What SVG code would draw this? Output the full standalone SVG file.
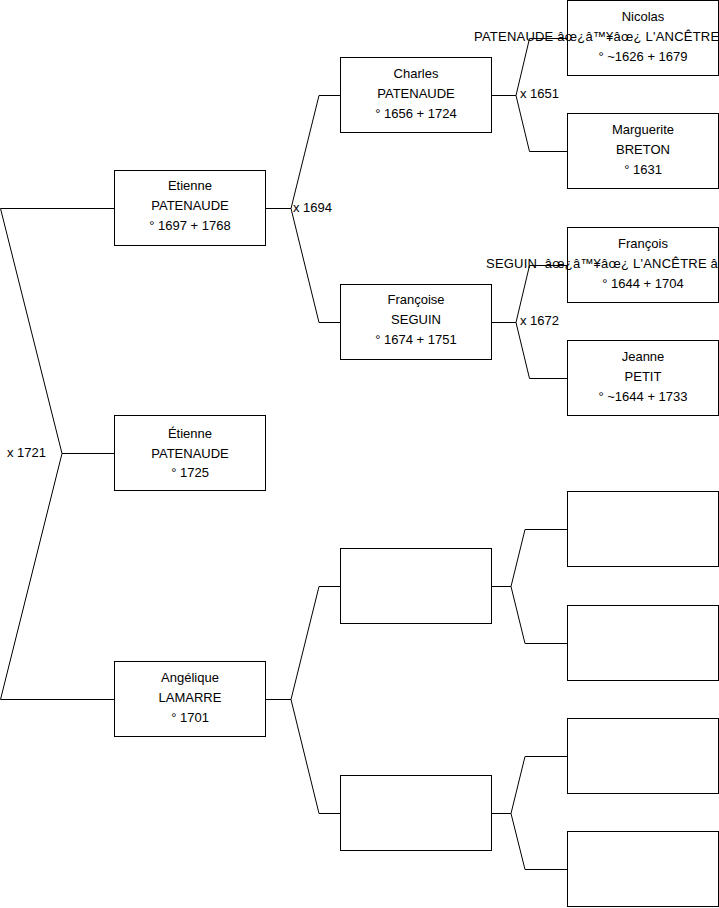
<svg xmlns="http://www.w3.org/2000/svg" width="719" height="908" viewBox="0 0 719 908">
<style>
.box{fill:#fff;stroke:#000;stroke-width:1}
.con{fill:none;stroke:#000;stroke-width:1}
text{font-family:"Liberation Sans",Arial,sans-serif;font-size:13px;fill:#000}
.c{text-anchor:middle}
.w{letter-spacing:0.22px}
</style>
<rect width="719" height="908" fill="#fff"/>
<g id="connectors">
<path class="con" d="M0.5,208.5 H114.5 M0.5,208.5 L62,453.5 H114.5 M62,453.5 L0.5,699.5 H114.5"/>
<path class="con" d="M265.5,208.5 H291 L319,95.5 H340.5 M291,208.5 L319,322.5 H340.5"/>
<path class="con" d="M265.5,699.5 H291 L319,586.5 H340.5 M291,699.5 L319,813.5 H340.5"/>
<path class="con" d="M491.5,95.5 H516 L529.5,38.5 H567.5 M516,95.5 L529.5,151.5 H567.5"/>
<path class="con" d="M491.5,322.5 H516 L529.5,265.5 H567.5 M516,322.5 L529.5,378.5 H567.5"/>
<path class="con" d="M491.5,586.5 H511 L525,529.5 H567.5 M511,586.5 L525,643.5 H567.5"/>
<path class="con" d="M491.5,813.5 H511 L525,756.5 H567.5 M511,813.5 L525,869.5 H567.5"/>
<text x="7" y="457">x 1721</text>
<text x="293" y="212">x 1694</text>
<text x="520" y="98">x 1651</text>
<text x="520" y="325">x 1672</text>
</g>
<g id="etienne-1697">
<rect class="box" x="114.5" y="170.5" width="151" height="75"/>
<text class="c" x="190" y="190">Etienne</text>
<text class="c" x="190" y="210">PATENAUDE</text>
<text class="c" x="190" y="230">° 1697 + 1768</text>
</g>
<g id="etienne-1725">
<rect class="box" x="114.5" y="415.5" width="151" height="75"/>
<text class="c" x="190" y="438">Étienne</text>
<text class="c" x="190" y="458">PATENAUDE</text>
<text class="c" x="190" y="477">° 1725</text>
</g>
<g id="angelique">
<rect class="box" x="114.5" y="661.5" width="151" height="75"/>
<text class="c" x="190" y="682">Angélique</text>
<text class="c" x="190" y="702">LAMARRE</text>
<text class="c" x="190" y="722">° 1701</text>
</g>
<g id="charles">
<rect class="box" x="340.5" y="57.5" width="151" height="75"/>
<text class="c" x="416" y="78">Charles</text>
<text class="c" x="416" y="98">PATENAUDE</text>
<text class="c" x="416" y="118">° 1656 + 1724</text>
</g>
<g id="francoise">
<rect class="box" x="340.5" y="284.5" width="151" height="75"/>
<text class="c" x="416" y="304">Françoise</text>
<text class="c" x="416" y="324">SEGUIN</text>
<text class="c" x="416" y="344">° 1674 + 1751</text>
</g>
<g id="empty-f">
<rect class="box" x="340.5" y="548.5" width="151" height="75"/>
</g>
<g id="empty-m">
<rect class="box" x="340.5" y="775.5" width="151" height="75"/>
</g>
<g id="nicolas">
<rect class="box" x="567.5" y="0.5" width="151" height="75"/>
<text class="c" x="643" y="21">Nicolas</text>
<text class="w" x="474" y="41" xml:space="preserve">PATENAUDE âœ¿â™¥âœ¿ L'ANCÊTRE âœ¿â™¥âœ¿</text>
<text class="c" x="643" y="61">° ~1626 + 1679</text>
</g>
<g id="marguerite">
<rect class="box" x="567.5" y="113.5" width="151" height="75"/>
<text class="c" x="643" y="134">Marguerite</text>
<text class="c" x="643" y="154">BRETON</text>
<text class="c" x="643" y="174">° 1631</text>
</g>
<g id="francois">
<rect class="box" x="567.5" y="227.5" width="151" height="75"/>
<text class="c" x="643" y="248">François</text>
<text class="w" x="486" y="268" xml:space="preserve">SEGUIN  âœ¿â™¥âœ¿ L'ANCÊTRE âœ¿â™¥âœ¿</text>
<text class="c" x="643" y="288">° 1644 + 1704</text>
</g>
<g id="jeanne">
<rect class="box" x="567.5" y="340.5" width="151" height="75"/>
<text class="c" x="643" y="361">Jeanne</text>
<text class="c" x="643" y="381">PETIT</text>
<text class="c" x="643" y="401">° ~1644 + 1733</text>
</g>
<g id="empty-1"><rect class="box" x="567.5" y="491.5" width="151" height="75"/></g>
<g id="empty-2"><rect class="box" x="567.5" y="605.5" width="151" height="75"/></g>
<g id="empty-3"><rect class="box" x="567.5" y="718.5" width="151" height="75"/></g>
<g id="empty-4"><rect class="box" x="567.5" y="831.5" width="151" height="75"/></g>
</svg>
